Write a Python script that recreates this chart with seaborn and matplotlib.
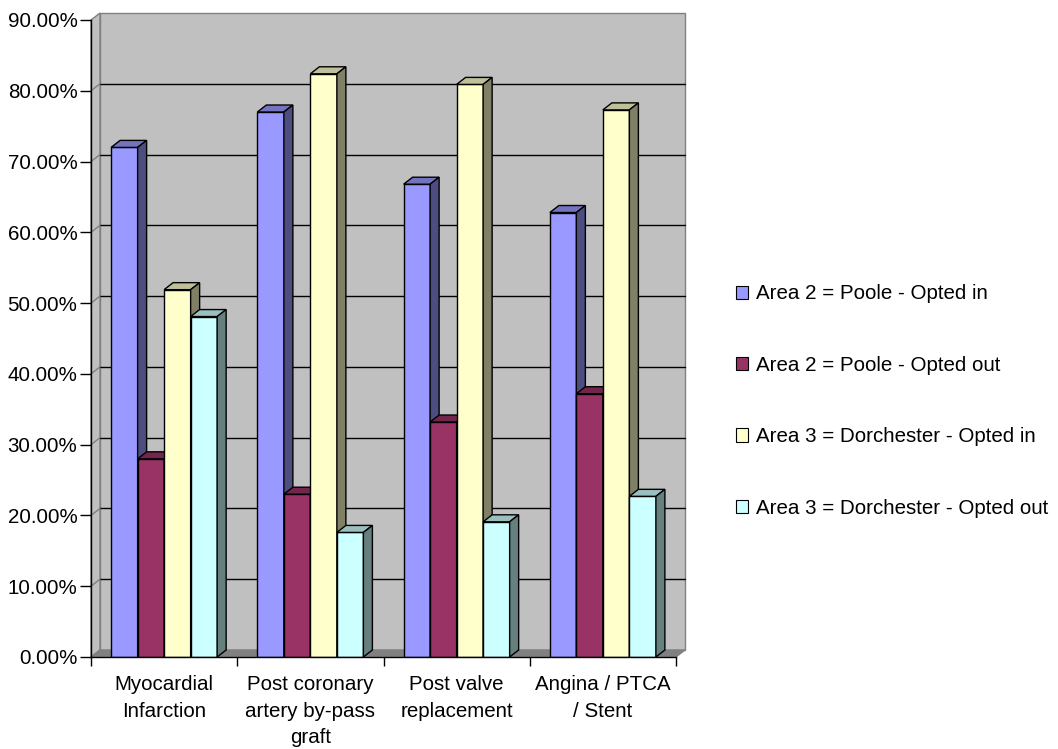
import numpy as np
import matplotlib
matplotlib.use("Agg")
import matplotlib.pyplot as plt
from matplotlib.patches import Polygon, Rectangle, Patch
from matplotlib.ticker import FuncFormatter, MultipleLocator
import matplotlib.colors as mcolors
import pandas as pd
import seaborn as sns

# data
categories = ["Myocardial\nInfarction", "Post coronary\nartery by-pass\ngraft",
              "Post valve\nreplacement", "Angina / PTCA\n/ Stent"]
series = ["Area 2 = Poole - Opted in", "Area 2 = Poole - Opted out",
          "Area 3 = Dorchester - Opted in", "Area 3 = Dorchester - Opted out"]
poole_in = [0.720, 0.770, 0.668, 0.628]
poole_out = [0.280, 0.230, 0.332, 0.372]
dorch_in = [0.519, 0.824, 0.809, 0.773]
dorch_out = [0.481, 0.176, 0.191, 0.227]
colors = ["#9999FF", "#993366", "#FFFFCC", "#CCFFFF"]

rows = []
for s, vals in zip(series, [poole_in, poole_out, dorch_in, dorch_out]):
    for c, v in zip(categories, vals):
        rows.append({"category": c, "series": s, "value": v})
df = pd.DataFrame(rows)

sns.set_style("white")
plt.rcParams["font.family"] = ["Liberation Sans", "DejaVu Sans"]
plt.rcParams["text.color"] = "black"
plt.rcParams["xtick.color"] = "black"
plt.rcParams["ytick.color"] = "black"
fs = 14.8

fig = plt.figure(figsize=(10.58, 7.49), dpi=100)
ax = fig.add_axes([91 / 1058, 92 / 749, 585 / 1058, 637 / 749])
ax.set_facecolor("none")

sns.barplot(data=df, x="category", y="value", hue="series", order=categories,
            hue_order=series, palette=dict(zip(series, colors)), width=0.725,
            saturation=1, edgecolor="black", linewidth=1, errorbar=None,
            legend=False, ax=ax)

x0, x1 = -0.5, 3.5
ymax = 0.9
ax.set_xlim(x0, x1)
ax.set_ylim(0, ymax)
# 3d depth offsets in data units (about 9 px right, 7 px up)
dx = 9 / 585 * (x1 - x0)
dy = 7 / 637 * ymax

# walls and floor
ax.add_patch(Rectangle((x0 + dx, dy), x1 - x0, ymax, facecolor="#C0C0C0",
                       edgecolor="#808080", lw=1, zorder=0, clip_on=False))
ax.add_patch(Polygon([(x0, 0), (x0 + dx, dy), (x0 + dx, ymax + dy), (x0, ymax)],
                     facecolor="#C0C0C0", edgecolor="#808080", lw=1, zorder=0,
                     clip_on=False))
ax.add_patch(Polygon([(x0, 0), (x1, 0), (x1 + dx, dy), (x0 + dx, dy)],
                     facecolor="#808080", edgecolor="#808080", lw=1, zorder=0.2,
                     clip_on=False))
for v in np.arange(0.1, ymax, 0.1):
    ax.plot([x0 + dx, x1 + dx], [v + dy, v + dy], color="black", lw=1,
            zorder=0.5, clip_on=False)
    ax.plot([x0, x0 + dx], [v, v + dy], color="#808080", lw=1, zorder=0.5,
            clip_on=False)

# fake 3d faces on each bar
bars = sorted([b for c in ax.containers for b in c], key=lambda b: b.get_x())
for k, b in enumerate(bars):
    x, w, h = b.get_x(), b.get_width(), b.get_height()
    fc = np.array(mcolors.to_rgb(b.get_facecolor()))
    z = 2 + k * 0.01
    b.set_zorder(z)
    ax.add_patch(Polygon([(x, h), (x + w, h), (x + w + dx, h + dy), (x + dx, h + dy)],
                         facecolor=fc * 0.75, edgecolor="black", lw=1, zorder=z,
                         clip_on=False))
    ax.add_patch(Polygon([(x + w, 0), (x + w + dx, dy), (x + w + dx, h + dy), (x + w, h)],
                         facecolor=fc * 0.5, edgecolor="black", lw=1, zorder=z,
                         clip_on=False))

# axes, ticks
ax.yaxis.set_major_locator(MultipleLocator(0.1))
ax.yaxis.set_major_formatter(FuncFormatter(lambda v, p: f"{v * 100:.2f}%"))
ax.tick_params(axis="y", left=True, direction="out", length=7.8, width=1,
               color="black", pad=2, labelsize=fs, labelcolor="black")
ax.set_xticks(range(len(categories)))
ax.set_xticklabels(categories, linespacing=1.5)
ax.set_xticks(np.arange(x0, x1 + 0.5, 1), minor=True)
ax.tick_params(axis="x", which="major", bottom=False, length=0, pad=13,
               labelsize=fs, labelcolor="black")
ax.tick_params(axis="x", which="minor", bottom=True, direction="out", length=6.5,
               width=1, color="black")
ax.set_xlabel("")
ax.set_ylabel("")
for s in ["top", "right"]:
    ax.spines[s].set_visible(False)
for s in ["left", "bottom"]:
    ax.spines[s].set_color("black")
    ax.spines[s].set_linewidth(1)
    ax.spines[s].set_zorder(5)

handles = [Patch(facecolor=c, edgecolor="black", lw=0.8, label=s)
           for s, c in zip(series, colors)]
fig.legend(handles=handles, loc="center left", bbox_to_anchor=(736 / 1058, 0.4646),
           frameon=False, fontsize=fs, handlelength=0.6, handleheight=0.6,
           handletextpad=0.35, labelspacing=2.55, borderaxespad=0, borderpad=0)

fig.savefig("out.png", dpi=100)
